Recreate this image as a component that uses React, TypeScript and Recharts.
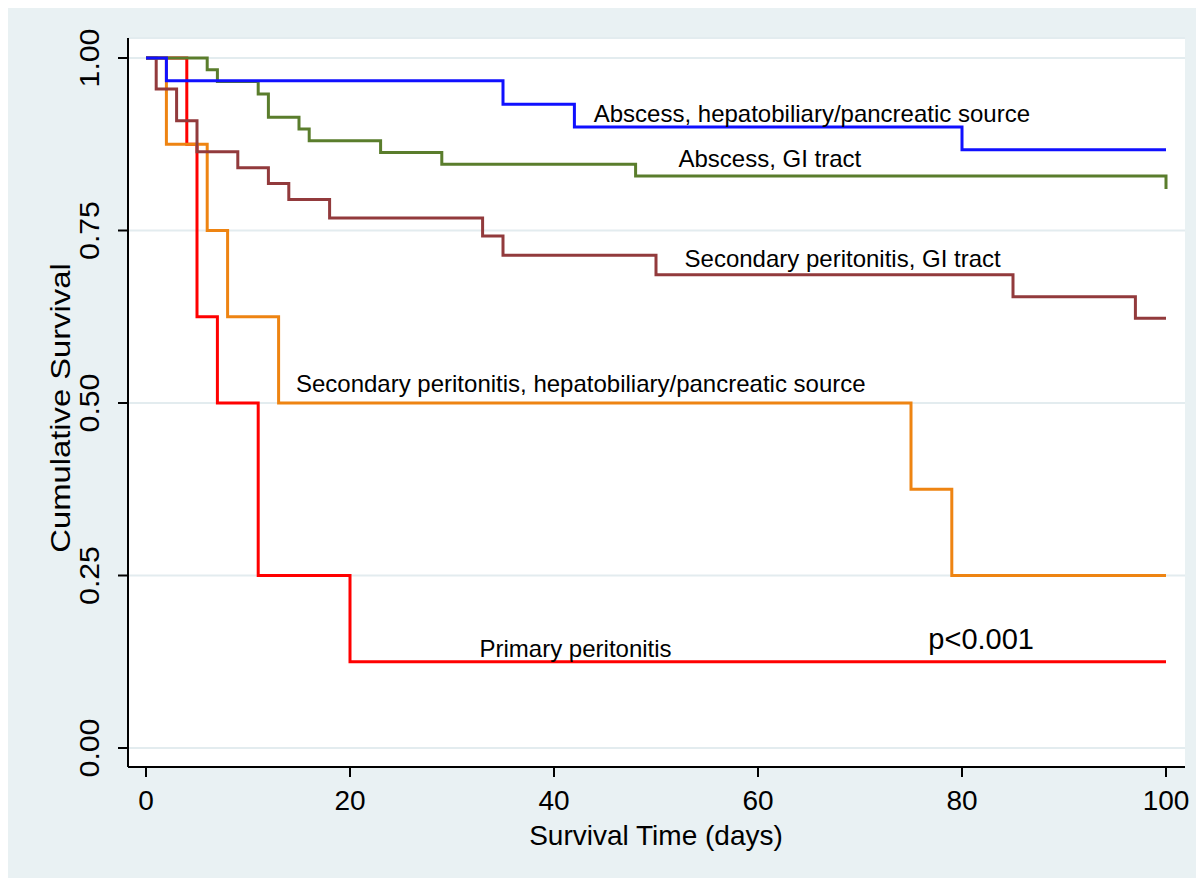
import React from "react";
import { CartesianGrid, Line, LineChart, ReferenceDot, XAxis, YAxis } from "recharts";

// survival steps (time in days, cumulative survival)
const abscessHepT = [0, 2, 35, 42, 80, 100];
const abscessHepS = [1, 0.967, 0.933, 0.9, 0.867, 0.867];

const abscessGiT = [0, 6, 7, 11, 12, 15, 16, 23, 29, 48, 100];
const abscessGiS = [1, 0.983, 0.966, 0.948, 0.914, 0.897, 0.88, 0.863, 0.846, 0.829, 0.81];

const secGiT = [0, 1, 3, 5, 9, 12, 14, 18, 33, 35, 50, 85, 97, 100];
const secGiS = [1, 0.955, 0.909, 0.864, 0.841, 0.818, 0.795, 0.768, 0.742, 0.714, 0.686, 0.654, 0.623, 0.623];

const secHepT = [0, 2, 6, 8, 13, 75, 79, 100];
const secHepS = [1, 0.875, 0.75, 0.625, 0.5, 0.375, 0.25, 0.25];

const primaryT = [0, 4, 5, 7, 11, 20, 100];
const primaryS = [1, 0.875, 0.625, 0.5, 0.25, 0.125, 0.125];

const xTicks = [0, 20, 40, 60, 80, 100];
const yTicks = [0, 0.25, 0.5, 0.75, 1];

// curve labels placed at data coordinates (left edge, vertical centre)
const notes = [
  { text: "Abscess, hepatobiliary/pancreatic source", t: 43.9, s: 0.92, size: 24 },
  { text: "Abscess, GI tract", t: 52.2, s: 0.855, size: 24 },
  { text: "Secondary peritonitis, GI tract", t: 52.8, s: 0.71, size: 24 },
  { text: "Secondary peritonitis, hepatobiliary/pancreatic source", t: 14.7, s: 0.528, size: 24 },
  { text: "Primary peritonitis", t: 32.7, s: 0.145, size: 24 },
  { text: "p<0.001", t: 76.7, s: 0.158, size: 29 },
];

const toPoints = (ts: number[], ss: number[]) => ts.map((t, i) => ({ t, s: ss[i] }));

// bottom to top drawing order
const series = [
  { name: "Primary peritonitis", data: toPoints(primaryT, primaryS), color: "#FF0000" },
  { name: "Secondary peritonitis, hepatobiliary/pancreatic source", data: toPoints(secHepT, secHepS), color: "#EE8412" },
  { name: "Secondary peritonitis, GI tract", data: toPoints(secGiT, secGiS), color: "#923A3C" },
  { name: "Abscess, GI tract", data: toPoints(abscessGiT, abscessGiS), color: "#5A7D2C" },
  { name: "Abscess, hepatobiliary/pancreatic source", data: toPoints(abscessHepT, abscessHepS), color: "#1010FF" },
];

const FONT = '"Liberation Sans", Arial, sans-serif';

function XTick({ x, payload }: any) {
  return (
    <text x={x} y={792} textAnchor="middle" dy="0.36em" fontSize={28} fontFamily={FONT} fill="#000">
      {payload.value}
    </text>
  );
}

// the original's vertical text is a bit stretched along its length
function YTick({ y, payload }: any) {
  return (
    <text
      transform={`translate(81, ${y}) rotate(-90) scale(1.08, 1)`}
      textAnchor="middle"
      dy="0.36em"
      fontSize={28}
      fontFamily={FONT}
      fill="#000"
    >
      {Number(payload.value).toFixed(2)}
    </text>
  );
}

export default function App() {
  return (
    <div style={{ width: 1190, height: 870, background: "#E9F1F3" }}>
      <LineChart width={1190} height={870} margin={{ top: 30, right: 13, left: 0, bottom: 0 }}>
        <CartesianGrid vertical={false} fill="#FFFFFF" stroke="#E3ECEF" strokeWidth={2} />
        <XAxis
          type="number"
          dataKey="t"
          domain={[0, 100]}
          ticks={xTicks}
          height={111}
          padding={{ left: 18, right: 19 }}
          tickSize={10}
          tick={<XTick />}
          axisLine={{ stroke: "#000", strokeWidth: 2 }}
          tickLine={{ stroke: "#000", strokeWidth: 2 }}
          label={{
            content: () => (
              <text x={648} y={827} textAnchor="middle" dy="0.36em" fontSize={28} fontFamily={FONT} fill="#000">
                Survival Time (days)
              </text>
            ),
          }}
        />
        <YAxis
          type="number"
          dataKey="s"
          domain={[0, 1]}
          ticks={yTicks}
          width={120}
          padding={{ top: 20, bottom: 19 }}
          tickSize={10}
          tick={<YTick />}
          axisLine={{ stroke: "#000", strokeWidth: 2 }}
          tickLine={{ stroke: "#000", strokeWidth: 2 }}
          label={{
            content: () => (
              <text
                transform="translate(52, 400) rotate(-90) scale(1.17, 1)"
                textAnchor="middle"
                dy="0.36em"
                fontSize={28}
                fontFamily={FONT}
                fill="#000"
              >
                Cumulative Survival
              </text>
            ),
          }}
        />
        {series.map((sr) => (
          <Line
            key={sr.name}
            data={sr.data}
            dataKey="s"
            name={sr.name}
            type="stepAfter"
            stroke={sr.color}
            strokeWidth={3}
            dot={false}
            activeDot={false}
            isAnimationActive={false}
          />
        ))}
        {notes.map((n) => (
          <ReferenceDot
            key={n.text}
            x={n.t}
            y={n.s}
            r={0}
            shape={(p: any) => (
              <text x={p.cx} y={p.cy} dy="0.36em" fontSize={n.size} fontFamily={FONT} fill="#000">
                {n.text}
              </text>
            )}
          />
        ))}
      </LineChart>
    </div>
  );
}
